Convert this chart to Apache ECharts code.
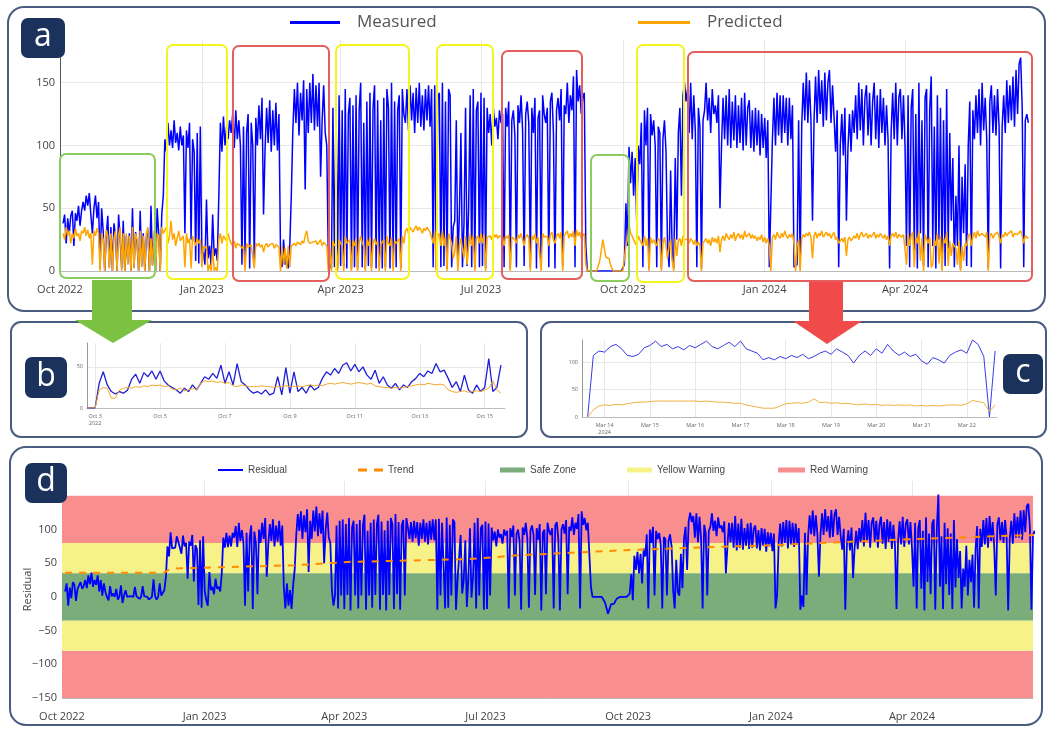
<!DOCTYPE html>
<html>
<head>
<meta charset="utf-8">
<title>Measured vs predicted</title>
<script src="https://cdn.jsdelivr.net/npm/echarts@6/dist/echarts.min.js"></script>
<style>
  body { margin: 0; background: #fff; }
  #chart { width: 1049px; height: 729px; }
</style>
</head>
<body>
<div id="chart"></div>
<script>
// panels a and d: one value per day, day 0 = 1 Oct 2022
const firstDay = 2;
const measured = [
  38,45,22,42,30,44,48,20,46,40,52,36,48,
  55,48,60,52,62,45,30,50,60,42,55,
  2,50,32,0,28,44,3,35,0,38,28,0,45,26,2,40,
  0,28,6,30,0,50,3,31,22,0,48,4,30,0,26,33,0,52,5,28,0,50,30,0,45,60,
  105,95,118,100,112,98,120,102,110,96,115,100,108,30,112,98,118,25,105,95,
  8,110,6,115,12,15,5,57,10,20,4,45,12,18,8,
  60,118,95,123,100,115,105,120,110,125,98,128,105,120,100,
  5,115,8,110,125,2,118,100,6,122,
  100,132,105,138,45,98,130,102,136,95,128,100,134,96,125,
  15,3,25,5,12,2,20,60,
  112,145,118,150,108,142,120,152,65,145,110,150,118,157,112,148,115,150,75,120,148,110,
  100,10,5,2,
  130,3,135,2,140,4,128,3,145,2,125,138,2,132,3,140,2,128,150,3,118,2,135,4,
  142,3,130,148,2,136,3,120,2,138,3,145,130,2,150,4,135,3,128,140,2,145,125,
  118,145,112,148,120,142,110,146,118,150,115,140,112,145,120,148,115,
  145,3,148,2,138,142,3,150,4,135,2,145,140,3,35,
  40,120,5,45,110,3,38,130,4,50,
  140,3,145,2,128,135,3,142,4,138,2,130,
  110,125,100,130,115,122,105,128,118,
  125,3,130,115,135,2,120,128,108,3,132,118,140,112,
  4,125,135,118,3,130,110,138,2,122,128,4,140,125,118,
  130,3,135,142,110,2,128,138,120,145,4,132,125,150,118,
  140,128,155,3,160,135,148,125,
  138,142,20,0,
  0,0,0,0,0,0,0,0,0,0,0,0,0,0,0,0,0,0,0,0,0,0,0,
  5,54,20,99,70,95,60,
  90,40,100,85,
  118,3,128,100,130,2,125,108,120,
  100,3,115,110,2,105,120,95,
  20,3,80,15,2,90,25,
  110,130,60,140,150,135,
  145,110,150,105,140,112,
  3,130,115,2,120,128,
  150,120,138,110,145,125,132,118,140,
  50,
  100,138,105,140,100,145,98,135,104,140,98,132,102,138,96,142,100,130,136,98,128,
  95,130,100,128,92,125,98,122,90,120,
  3,2,
  105,138,100,142,108,140,102,140,110,138,100,138,105,132,
  3,2,5,120,3,
  115,150,120,158,118,152,120,
  40,
  120,155,118,160,125,152,115,158,120,150,160,118,148,122,
  95,128,3,100,125,92,130,40,98,125,95,128,
  110,140,105,150,112,145,100,138,148,108,142,100,135,150,105,140,98,145,110,138,100,132,105,
  2,
  110,142,105,150,100,138,145,105,140,100,
  20,140,3,130,145,15,125,2,150,30,120,4,138,145,3,128,155,20,115,2,140,25,130,3,120,4,145,18,110,
  40,90,3,60,20,100,2,75,30,85,4,
  100,135,3,128,105,140,110,145,100,150,112,138,105,2,135,148,110,140,108,145,115,
  2,
  115,140,110,152,118,148,120,155,115,160,125,165,170,130,
  3,
  120,125,118
];
const predicted = [
  30,25,35,28,32,22,30,26,34,28,30,24,32,
  30,35,28,33,26,30,5,32,28,34,30,
  0,30,25,0,33,28,2,30,0,26,32,0,28,35,0,30,
  0,30,5,28,0,35,2,30,25,0,32,3,28,0,30,35,0,26,4,32,0,30,28,0,35,30,
  30,35,22,28,40,25,30,20,26,32,24,25,28,3,30,22,26,2,28,24,
  20,26,22,25,3,20,18,20,0,5,0,18,0,3,0,
  25,30,22,28,26,24,30,25,22,20,24,18,22,21,20,
  18,20,0,22,19,20,21,20,2,22,
  20,22,19,21,15,20,22,19,21,20,22,18,21,20,19,
  0,20,5,18,2,20,3,20,
  21,22,20,23,22,21,24,22,28,32,24,22,21,23,22,24,21,22,25,20,23,22,
  20,0,18,0,
  24,20,22,0,25,22,20,0,28,22,22,25,0,24,20,26,0,22,28,22,20,0,25,20,
  27,0,22,26,21,24,0,21,22,25,0,28,22,20,27,0,24,22,22,26,0,28,22,
  32,34,30,35,33,31,34,36,32,35,33,30,34,32,35,33,31,
  30,22,32,0,28,30,20,32,20,28,0,30,29,22,10,
  15,28,0,20,26,18,10,28,5,20,
  30,20,28,0,26,28,22,30,22,29,0,27,
  26,28,25,30,27,29,26,28,27,
  27,20,28,26,29,0,27,28,25,22,29,26,30,25,
  20,27,29,26,0,28,25,30,22,27,28,0,30,27,26,
  28,20,29,31,25,22,28,30,26,31,0,28,27,32,26,
  30,27,32,20,33,28,31,26,
  28,30,5,0,
  0,0,0,0,0,0,0,8,16,25,18,11,11,10,5,2,0,0,0,0,0,0,0,
  0,20,25,38,30,28,25,
  26,20,28,25,
  25,20,28,20,26,0,27,22,25,
  22,20,26,24,0,22,27,20,
  10,20,25,8,0,26,12,
  24,26,20,28,25,24,
  25,22,26,24,21,25,
  20,23,20,0,22,24,
  26,22,25,20,27,23,26,22,28,
  15,
  25,28,24,30,27,25,29,26,31,24,28,30,26,29,25,32,27,28,30,26,29,
  26,28,24,27,25,29,23,27,22,26,
  20,0,
  27,29,25,31,28,26,30,27,32,28,26,29,27,30,
  22,0,20,25,0,
  26,29,27,30,28,31,27,
  10,
  28,31,26,30,28,32,27,29,31,28,30,26,29,31,
  25,27,22,24,26,23,27,12,25,27,24,26,
  28,26,30,25,29,31,27,28,30,26,29,27,28,31,26,29,27,30,28,26,29,25,28,
  20,
  28,30,27,31,26,29,30,27,29,28,
  5,30,20,28,31,3,27,22,32,8,26,0,29,30,22,27,3,5,25,20,30,6,28,0,26,22,31,4,24,
  12,22,20,18,5,24,0,20,8,22,20,
  28,30,20,27,31,26,32,28,27,30,29,27,31,0,28,30,26,29,28,31,27,
  22,
  29,27,31,28,30,29,32,27,30,31,29,30,32,28,
  22,
  28,27,26
];
const quarterDays = [0, 92, 182, 273, 365, 457, 548];
const quarterLabels = ['Oct 2022', 'Jan 2023', 'Apr 2023', 'Jul 2023', 'Oct 2023', 'Jan 2024', 'Apr 2024'];
const trendDays = [2, 66, 70, 150, 186, 261, 296, 369, 460, 550, 628];
const trendValues = [36, 36, 42, 47, 52, 56, 62, 70, 77, 86, 92];
const safeZone = [-35, 35];
const yellowZones = [[35, 80], [-80, -35]];
const redZones = [[80, 150], [-150, -80]];

// panel b: every 3 h, hour 0 = 3 Oct 2022 00:00
const bStartHour = -6;
const bMeasured = [
  0,0,0,30,44,28,20,17,20,18,
  22,35,41,30,43,38,45,35,45,33,
  28,25,22,18,24,20,28,22,30,38,
  35,42,36,52,30,44,28,54,32,28,
  22,18,20,17,22,16,18,38,16,49,
  18,44,20,25,18,28,22,25,36,44,
  40,48,42,52,55,45,53,44,50,40,
  35,46,30,38,28,24,30,22,28,25,
  32,36,42,38,45,42,54,44,46,36,
  25,32,20,40,22,18,28,20,25,60,
  20,25,52
];
const bPredicted = [
  0,0,0,22,25,24,12,12,22,24,
  25,24,26,25,27,26,28,27,28,26,
  27,23,22,24,21,22,24,22,30,33,
  32,33,31,32,30,31,27,26,28,27,
  26,26,26,27,26,26,25,26,26,27,
  26,26,27,26,27,28,27,28,27,29,
  30,29,30,31,30,29,30,31,30,29,
  30,27,26,25,25,24,25,24,25,26,
  27,28,29,28,30,29,28,29,28,22,
  20,19,20,21,19,20,21,20,22,24,
  33,22,18
];
const bTickHours = [0, 48, 96, 144, 192, 240, 288];
const bTickLabels = ['Oct 3\n2022', 'Oct 5', 'Oct 7', 'Oct 9', 'Oct 11', 'Oct 13', 'Oct 15'];

// panel c: every 3 h, hour 0 = 14 Mar 2024 00:00
const cStartHour = -9;
const cMeasured = [
  0,112,120,118,128,132,124,112,110,114,
  126,130,138,128,132,124,128,122,130,126,
  132,138,128,124,130,136,128,138,124,120,
  116,104,108,104,110,106,112,108,114,106,
  110,116,120,114,124,118,112,98,112,120,
  112,124,116,132,120,112,118,110,114,102,
  96,108,104,98,112,118,122,116,140,132,
  110,0,120
];
const cPredicted = [
  0,13,20,22,21,23,22,24,26,27,
  27,28,29,29,29,29,29,29,29,29,
  28,29,28,27,27,26,25,25,22,20,
  18,16,16,16,20,24,25,26,25,27,
  33,26,27,25,26,24,25,23,22,24,
  22,23,21,22,21,22,21,22,20,21,
  20,21,20,21,22,22,21,24,30,28,
  26,10,22
];
const cTickHours = [0, 24, 48, 72, 96, 120, 144, 168, 192];
const cTickLabels = ['Mar 14\n2024', 'Mar 15', 'Mar 16', 'Mar 17', 'Mar 18', 'Mar 19', 'Mar 20', 'Mar 21', 'Mar 22'];

const FONT = 'Open Sans';
const BLUE = '#0000ff';
const ORANGE = '#ffa500';
const GREEN_ZONE = '#7aad7a';
const YELLOW_ZONE = '#f7f288';
const RED_ZONE = '#f98e8e';
const GRID_LINE = '#e8e8e8';
const DASH_ICON = 'path://M0,0H9V3H0Z M16,0H25V3H16Z';

function labelFor(values, labels) {
  return function (v) {
    const i = values.indexOf(v);
    return i < 0 ? '' : labels[i];
  };
}

function timeAxis(gridIndex, min, max, ticks, labels, opts) {
  return {
    gridIndex: gridIndex, type: 'value', min: min, max: max,
    axisLine: { show: true, onZero: false, lineStyle: { color: opts.lineColor || '#bbb', width: 1 } },
    axisTick: { show: false, customValues: ticks },
    axisLabel: {
      customValues: ticks, formatter: labelFor(ticks, labels),
      fontSize: opts.fontSize, color: opts.color || '#444', fontFamily: FONT,
      margin: opts.margin, lineHeight: opts.lineHeight
    },
    splitLine: { show: true, lineStyle: { color: GRID_LINE } }
  };
}

function valueAxis(gridIndex, min, max, ticks, opts) {
  return {
    gridIndex: gridIndex, type: 'value', min: min, max: max,
    axisLine: { show: true, onZero: false, lineStyle: { color: opts.lineColor || '#555' } },
    axisTick: { show: false, customValues: ticks },
    axisLabel: {
      customValues: ticks, fontSize: opts.fontSize, color: opts.color || '#444',
      fontFamily: FONT, margin: opts.margin,
      formatter: v => (v < 0 ? '\u2212' + (-v) : String(v))
    },
    splitLine: { show: opts.split !== false, lineStyle: { color: GRID_LINE } },
    name: opts.name, nameLocation: 'middle', nameGap: opts.nameGap, nameMoveOverlap: false,
    nameTextStyle: { fontSize: 11, color: '#444', fontFamily: FONT }
  };
}

function line(name, xi, data, color, width, extra) {
  return Object.assign({
    name: name, type: 'line', xAxisIndex: xi, yAxisIndex: xi, data: data,
    symbol: 'none', silent: true, animation: false,
    lineStyle: { color: color, width: width }, itemStyle: { color: color }
  }, extra || {});
}

const dayPts = arr => arr.map((v, i) => [firstDay + i, v]);
const hourPts = (arr, start) => arr.map((v, i) => [start + 3 * i, v]);
const residual = measured.map((v, i) => [firstDay + i, v - predicted[i]]);
const trend = trendDays.map((d, i) => [d, trendValues[i]]);

function zoneSeries(name, color, bands) {
  return line(name, 3, [], color, 4, {
    markArea: {
      silent: true,
      itemStyle: { color: color, opacity: 1 },
      data: bands.map(b => [{ yAxis: b[0] }, { yAxis: b[1] }])
    }
  });
}

function legendItem(name, left, top, opts) {
  return {
    data: [name], left: left, top: top, selectedMode: false, padding: 0,
    icon: opts.icon || 'rect', itemWidth: opts.w, itemHeight: opts.h,
    textStyle: opts.big
      ? { fontSize: 17, color: '#555', fontFamily: FONT, padding: [0, 0, 0, 12] }
      : { fontSize: 10, color: '#444', fontFamily: 'Liberation Sans' }
  };
}

function panelBox(x, y, w, h, r) {
  return { type: 'rect', z: 1, shape: { x: x, y: y, width: w, height: h, r: r },
    style: { fill: 'none', stroke: '#4a5d80', lineWidth: 2 } };
}

function tag(letter, x, y, w, h) {
  return [
    { type: 'rect', z: 70, shape: { x: x, y: y, width: w, height: h, r: 7 },
      style: { fill: '#1b325c' } },
    { type: 'text', z: 71, style: {
      text: letter, x: x + w / 2, y: y + h / 2 - 1, fill: '#fff',
      font: '32px "Open Sans"', textAlign: 'center', textVerticalAlign: 'middle',
      align: 'center', verticalAlign: 'middle' } }
  ];
}

function mark(x, y, w, h, color) {
  return { type: 'rect', z: 50, shape: { x: x, y: y, width: w, height: h, r: 6 },
    style: { fill: 'none', stroke: color, lineWidth: 2 } };
}

const MARK_GREEN = '#8ccb5e', MARK_YELLOW = '#f5f51e', MARK_RED = '#e45e5e';

const option = {
  animation: false,
  backgroundColor: '#fff',
  grid: [
    { left: 60, top: 40, width: 973, height: 231 },
    { left: 87, top: 343, width: 418, height: 65 },
    { left: 582, top: 340, width: 415, height: 77 },
    { left: 62, top: 481, width: 971, height: 217 }
  ],
  xAxis: [
    timeAxis(0, 0, 631, quarterDays, quarterLabels, { fontSize: 11, margin: 13 }),
    timeAxis(1, -6, 303, bTickHours, bTickLabels, { fontSize: 5.5, margin: 5, color: '#666', lineHeight: 7 }),
    timeAxis(2, -12, 208, cTickHours, cTickLabels, { fontSize: 5.5, margin: 5, color: '#666', lineHeight: 7 }),
    timeAxis(3, 0, 626, quarterDays, quarterLabels, { fontSize: 11, margin: 13 })
  ],
  yAxis: [
    valueAxis(0, 0, 184, [0, 50, 100, 150], { fontSize: 11, margin: 5 }),
    valueAxis(1, 0, 79, [0, 50], { fontSize: 5.5, margin: 4, color: '#666', lineColor: '#999' }),
    valueAxis(2, 0, 140, [0, 50, 100], { fontSize: 5.5, margin: 4, color: '#666', lineColor: '#999' }),
    valueAxis(3, -150, 172, [-150, -100, -50, 0, 50, 100],
      { fontSize: 11, margin: 5, split: false, name: 'Residual', nameGap: 29 })
  ],
  legend: [
    legendItem('Measured', 290, 14, { big: true, w: 50, h: 3 }),
    legendItem('Predicted', 638, 14, { big: true, w: 52, h: 3 }),
    legendItem('Residual', 218, 465, { w: 25, h: 2 }),
    legendItem('Trend', 358, 465, { w: 25, h: 3, icon: DASH_ICON }),
    legendItem('Safe Zone', 500, 465, { w: 25, h: 5 }),
    legendItem('Yellow Warning', 627, 465, { w: 25, h: 5 }),
    legendItem('Red Warning', 778, 465, { w: 27, h: 5 })
  ],
  series: [
    line('Measured', 0, dayPts(measured), BLUE, 1.5),
    line('Predicted', 0, dayPts(predicted), ORANGE, 1.5),
    line('b measured', 1, hourPts(bMeasured, bStartHour), '#1f1fd8', 1.3),
    line('b predicted', 1, hourPts(bPredicted, bStartHour), '#f2a72c', 1),
    line('c measured', 2, hourPts(cMeasured, cStartHour), '#3a3ae6', 1),
    line('c predicted', 2, hourPts(cPredicted, cStartHour), '#f0b040', 1),
    zoneSeries('Red Warning', RED_ZONE, redZones),
    zoneSeries('Yellow Warning', YELLOW_ZONE, yellowZones),
    zoneSeries('Safe Zone', GREEN_ZONE, [safeZone]),
    line('Residual', 3, residual, BLUE, 1.8, { z: 3 }),
    line('Trend', 3, trend, '#ff8c00', 2, { z: 4, lineStyle: { color: '#ff8c00', width: 2, type: [7, 7] } })
  ],
  graphic: {
    elements: [
      panelBox(8, 7, 1037, 304, 16),
      panelBox(11, 322, 516, 115, 10),
      panelBox(541, 322, 505, 115, 10),
      panelBox(10, 447, 1032, 278, 16),
      mark(60, 154, 95, 124, MARK_GREEN),
      mark(167, 45, 60, 234, MARK_YELLOW),
      mark(233, 46, 96, 235, MARK_RED),
      mark(336, 45, 73, 234, MARK_YELLOW),
      mark(437, 45, 56, 234, MARK_YELLOW),
      mark(502, 51, 80, 228, MARK_RED),
      mark(591, 155, 38, 126, MARK_GREEN),
      mark(637, 45, 47, 237, MARK_YELLOW),
      mark(688, 52, 344, 229, MARK_RED),
      { type: 'polygon', z: 60, shape: { points: [[92, 280], [132, 280], [132, 320], [152, 320], [113, 343], [75, 320], [92, 320]] },
        style: { fill: '#7cc242' } },
      { type: 'polygon', z: 60, shape: { points: [[809, 282], [843, 282], [843, 321], [862, 321], [827, 344], [793, 321], [809, 321]] },
        style: { fill: '#f04a4a' } }
    ].concat(
      tag('a', 21, 18, 44, 40),
      tag('b', 25, 357, 42, 41),
      tag('c', 1003, 354, 40, 40),
      tag('d', 25, 463, 42, 40)
    )
  }
};

const chart = echarts.init(document.getElementById('chart'));
chart.setOption(option);
window.addEventListener('resize', () => chart.resize());
</script>
</body>
</html>
